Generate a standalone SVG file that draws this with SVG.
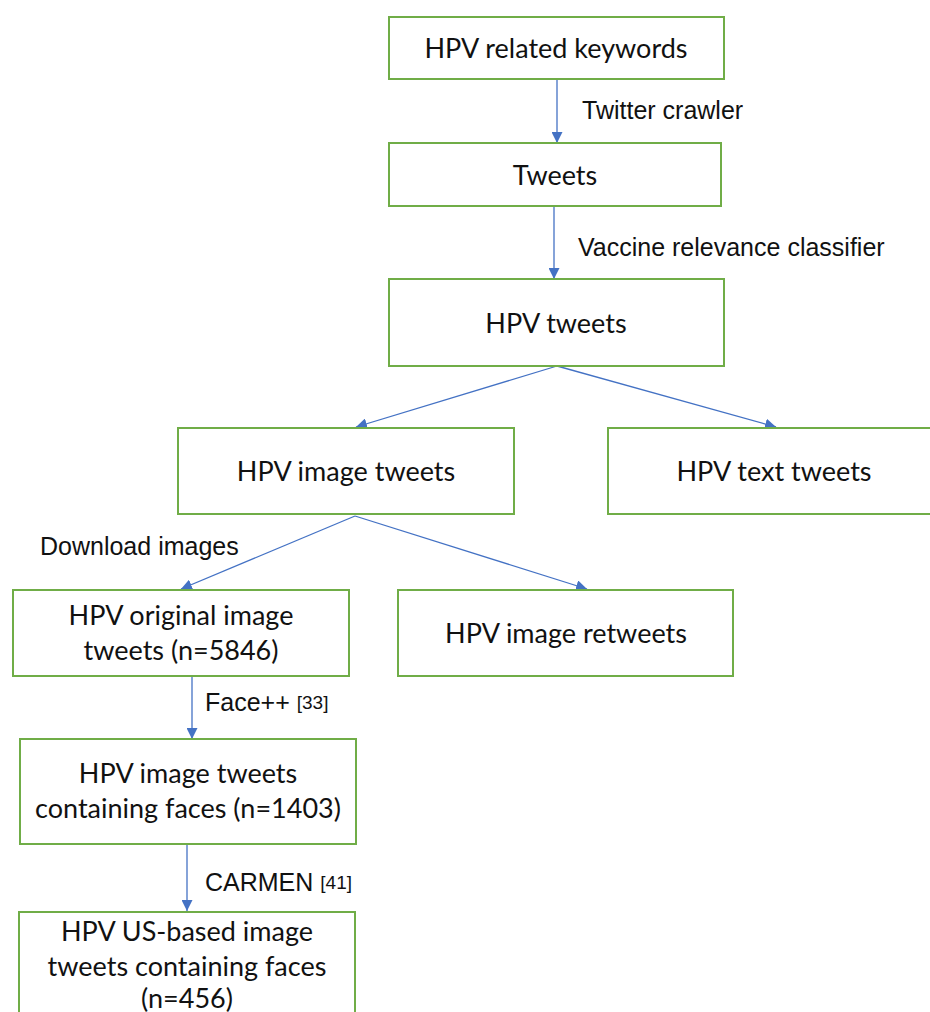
<svg xmlns="http://www.w3.org/2000/svg" width="930" height="1012" viewBox="0 0 930 1012">
<style>
.box{fill:#fff;stroke:#70AD47;stroke-width:2}
.nt{font-family:Lato,"Noto Sans",sans-serif;font-size:27px;fill:#111;text-anchor:middle}
.lb{font-family:"Liberation Sans",Arial,sans-serif;font-size:25px;fill:#111}
.sup{font-size:19px}
.cn{stroke:#4472C4;stroke-width:1.3;fill:none;marker-end:url(#ah)}
</style>
<defs>
<marker id="ah" viewBox="0 0 10 10" refX="10" refY="5" markerWidth="11" markerHeight="11" markerUnits="userSpaceOnUse" orient="auto">
<path d="M0,0 L10,5 L0,10 z" fill="#4472C4"/>
</marker>
</defs>
<rect width="930" height="1012" fill="#fff"/>
<g id="connectors">
<line class="cn" x1="557" y1="79" x2="557" y2="143"/>
<line class="cn" x1="554" y1="206" x2="554" y2="279"/>
<line class="cn" x1="557" y1="366" x2="356" y2="427"/>
<line class="cn" x1="557" y1="366" x2="776" y2="427"/>
<line class="cn" x1="355" y1="516" x2="181" y2="589"/>
<line class="cn" x1="355" y1="516" x2="587" y2="589"/>
<line class="cn" x1="192" y1="676" x2="192" y2="739"/>
<line class="cn" x1="187" y1="844" x2="187" y2="911"/>
<text class="lb" x="582" y="119">Twitter crawler</text>
<text class="lb" x="578" y="256">Vaccine relevance classifier</text>
<text class="lb" x="40" y="555">Download images</text>
<text class="lb" x="205" y="711">Face++ <tspan class="sup" dy="-2">[33]</tspan></text>
<text class="lb" x="205" y="891">CARMEN <tspan class="sup" dy="-2">[41]</tspan></text>
</g>
<g id="n1"><rect class="box" x="389" y="17" width="335" height="62"/><text class="nt" x="556" y="58">HPV related keywords</text></g>
<g id="n2"><rect class="box" x="389" y="143" width="332" height="63"/><text class="nt" x="555" y="185">Tweets</text></g>
<g id="n3"><rect class="box" x="389" y="279" width="335" height="87"/><text class="nt" x="556" y="333">HPV tweets</text></g>
<g id="n4"><rect class="box" x="178" y="428" width="336" height="86"/><text class="nt" x="346" y="481">HPV image tweets</text></g>
<g id="n5"><rect class="box" x="608" y="428" width="330" height="86"/><text class="nt" x="774" y="481">HPV text tweets</text></g>
<g id="n6"><rect class="box" x="13" y="590" width="336" height="86"/><text class="nt" x="181" y="625">HPV original image</text><text class="nt" x="181" y="660">tweets (n=5846)</text></g>
<g id="n7"><rect class="box" x="398" y="590" width="335" height="86"/><text class="nt" x="566" y="643">HPV image retweets</text></g>
<g id="n8"><rect class="box" x="20" y="739" width="336" height="105"/><text class="nt" x="188" y="783">HPV image tweets</text><text class="nt" x="188" y="818">containing faces (n=1403)</text></g>
<g id="n9"><rect class="box" x="19" y="912" width="336" height="120"/><text class="nt" x="187" y="941">HPV US-based image</text><text class="nt" x="187" y="976">tweets containing faces</text><text class="nt" x="187" y="1008">(n=456)</text></g>
</svg>
